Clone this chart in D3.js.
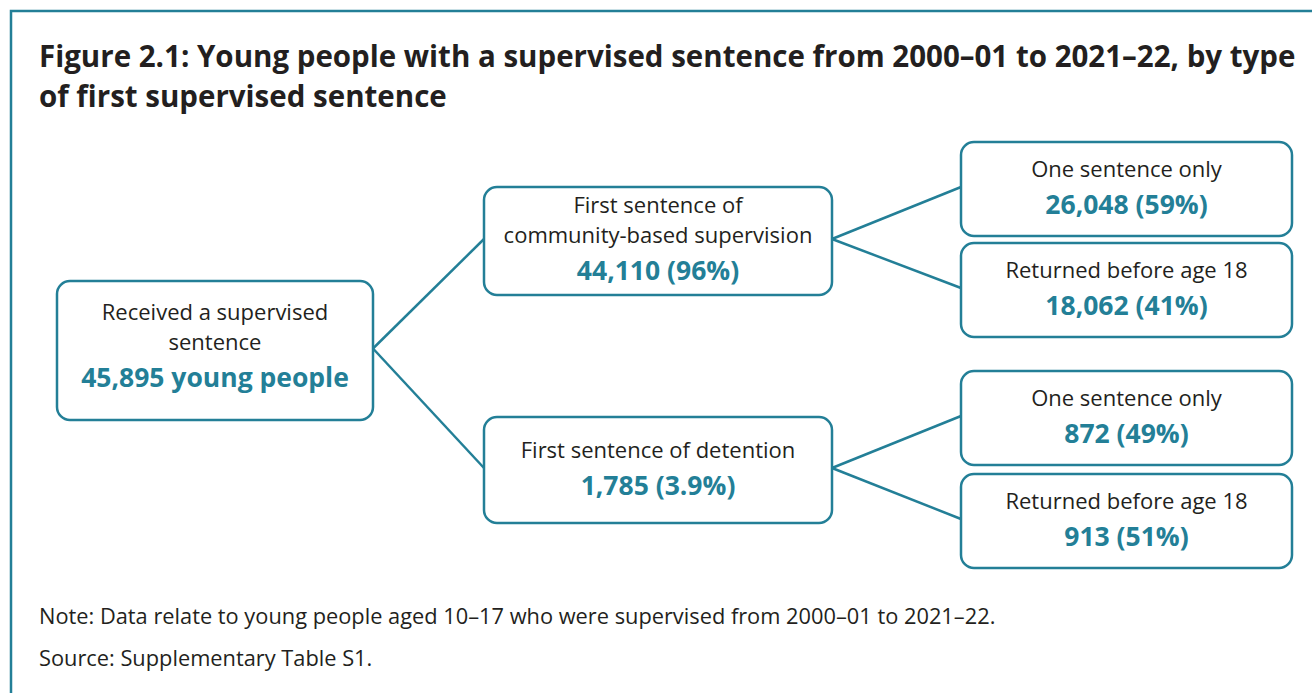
<!DOCTYPE html>
<html>
<head>
<meta charset="utf-8">
<script src="https://cdn.jsdelivr.net/npm/d3@7"></script>
<style>
  html, body { margin: 0; padding: 0; background: #fff; }
  svg { display: block; }
  text { font-family: "Open Sans", "Noto Sans", sans-serif; }
</style>
</head>
<body>
<div id="chart"></div>
<script>
// ---- data ----
const titleLines = [
  "Figure 2.1: Young people with a supervised sentence from 2000\u201301 to 2021\u201322, by type",
  "of first supervised sentence"
];
const nodeIds     = ["root", "community", "detention", "comOne", "comReturned", "detOne", "detReturned"];
const nodeParents = [null, "root", "root", "community", "community", "detention", "detention"];
const nodeLabels  = [
  ["Received a supervised", "sentence"],
  ["First sentence of", "community-based supervision"],
  ["First sentence of detention"],
  ["One sentence only"],
  ["Returned before age 18"],
  ["One sentence only"],
  ["Returned before age 18"]
];
const nodeCounts   = [45895, 44110, 1785, 26048, 18062, 872, 913];
const nodeValueTxt = ["45,895 young people", "44,110 (96%)", "1,785 (3.9%)", "26,048 (59%)", "18,062 (41%)", "872 (49%)", "913 (51%)"];
const notes = [
  "Note: Data relate to young people aged 10\u201317 who were supervised from 2000\u201301 to 2021\u201322.",
  "Source: Supplementary Table S1."
];

// ---- layout (presentation only) ----
const W = 1312, H = 693;
const teal = "#237f97", ink = "#231f20";
const levelX = { 0: [57, 373], 1: [484, 832], 2: [961, 1292] };
const boxY = {
  root: [281, 420], community: [187, 295], detention: [417, 523],
  comOne: [142, 236], comReturned: [243, 337], detOne: [371, 465], detReturned: [474, 568]
};

const svg = d3.select("#chart").append("svg").attr("width", W).attr("height", H);

// frame
svg.append("path")
  .attr("d", `M11,${H} L11,11 L${W},11`)
  .attr("fill", "none").attr("stroke", teal).attr("stroke-width", 2.5);

// title
svg.append("g").selectAll("text").data(titleLines).join("text")
  .attr("x", 39).attr("y", (d, i) => 67 + i * 40)
  .attr("font-size", 29.5).attr("font-weight", 700).attr("fill", ink)
  .text(d => d);

// hierarchy
const table = nodeIds.map((id, i) => ({ id, parent: nodeParents[i], labels: nodeLabels[i], count: nodeCounts[i], valueText: nodeValueTxt[i] }));
const root = d3.stratify().id(d => d.id).parentId(d => d.parent)(table);
root.each(n => {
  const [x0, x1] = levelX[n.depth];
  const [y0, y1] = boxY[n.id];
  n.bx0 = x0; n.bx1 = x1; n.by0 = y0; n.by1 = y1;
  n.cx = (x0 + x1) / 2; n.cy = (y0 + y1) / 2;
});

// links
svg.append("g").selectAll("line").data(root.links()).join("line")
  .attr("x1", d => d.source.bx1).attr("y1", d => d.source.cy - 2)
  .attr("x2", d => d.target.bx0).attr("y2", d => d.target.cy - 2)
  .attr("stroke", teal).attr("stroke-width", 2.5);

// boxes
const nodes = svg.append("g").selectAll("g").data(root.descendants()).join("g");
nodes.append("rect")
  .attr("x", d => d.bx0).attr("y", d => d.by0)
  .attr("width", d => d.bx1 - d.bx0).attr("height", d => d.by1 - d.by0)
  .attr("rx", 13).attr("ry", 13)
  .attr("fill", "#fff").attr("stroke", teal).attr("stroke-width", 2.5);

nodes.each(function(d) {
  const g = d3.select(this);
  const n = d.data.labels.length;
  const isRoot = d.depth === 0;
  const first = d.cy - (n === 1 ? 12 : (isRoot ? 30.5 : 28));
  d.data.labels.forEach((t, i) => {
    g.append("text").attr("x", d.cx).attr("y", first + i * 30)
      .attr("text-anchor", "middle").attr("font-size", 22).attr("fill", ink).text(t);
  });
  g.append("text").attr("x", d.cx).attr("y", first + (n - 1) * 30 + 37)
    .attr("text-anchor", "middle").attr("font-size", 26.5).attr("font-weight", 700)
    .attr("fill", teal).text(d.data.valueText);
});

// notes
svg.append("g").selectAll("text").data(notes).join("text")
  .attr("x", 39).attr("y", (d, i) => 624 + i * 42)
  .attr("font-size", 21.8).attr("fill", ink).text(d => d);
</script>
</body>
</html>
